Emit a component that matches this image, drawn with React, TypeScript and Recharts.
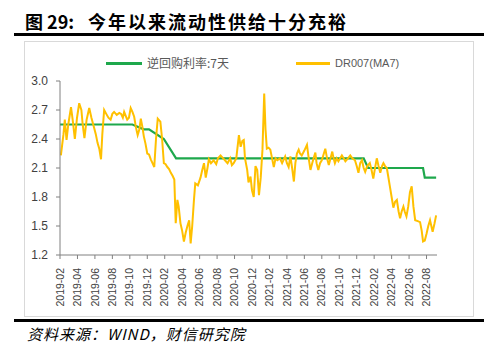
import { LineChart, Line, XAxis, YAxis } from "recharts";

// x = months since 2019-02, y = rate (%)
const dr2019: [number, number][] = [
  [0.1, 2.23], [0.4, 2.45], [0.55, 2.6], [0.75, 2.39], [0.95, 2.55], [1.26, 2.73], [1.45, 2.6],
  [1.7, 2.4], [1.95, 2.62], [2.2, 2.77], [2.45, 2.7], [2.6, 2.55], [2.8, 2.41], [3.05, 2.6],
  [3.35, 2.72], [3.6, 2.62], [3.9, 2.52], [4.1, 2.45], [4.3, 2.36], [4.5, 2.3], [4.7, 2.19],
  [4.85, 2.45], [5.06, 2.7], [5.3, 2.66], [5.55, 2.62], [5.8, 2.6], [6.0, 2.66], [6.2, 2.68],
  [6.5, 2.65], [6.8, 2.67], [7.0, 2.66], [7.2, 2.62], [7.35, 2.68], [7.7, 2.6], [7.9, 2.62],
  [8.1, 2.72], [8.3, 2.68], [8.5, 2.63], [8.7, 2.52], [8.9, 2.44], [9.1, 2.5], [9.26, 2.61],
  [9.45, 2.52], [9.6, 2.43], [9.8, 2.35], [10.0, 2.25], [10.2, 2.24], [10.4, 2.19],
  [10.6, 2.15], [10.8, 2.11],
];
const dr2020: [number, number][] = [
  [11.0, 2.4], [11.2, 2.61], [11.5, 2.58], [11.7, 2.4], [11.9, 2.15], [12.1, 2.14], [12.3, 2.11],
  [12.5, 2.09], [12.7, 2.05], [12.9, 2.02], [13.1, 1.98], [13.26, 1.53], [13.45, 1.77],
  [13.6, 1.7], [13.8, 1.53], [14.0, 1.45], [14.2, 1.34], [14.4, 1.43], [14.6, 1.5], [14.8, 1.56],
  [14.97, 1.32], [15.15, 1.5], [15.35, 1.77], [15.5, 1.94], [15.8, 1.92], [16.1, 2.0],
  [16.3, 2.08], [16.5, 2.15], [16.7, 2.0], [16.9, 2.1], [17.06, 2.19], [17.3, 2.15],
  [17.6, 2.18], [17.9, 2.14], [18.1, 2.2], [18.4, 2.23], [18.7, 2.2], [18.9, 2.18],
  [19.2, 2.15], [19.5, 2.2], [19.7, 2.13], [19.9, 2.15], [20.2, 2.2], [20.5, 2.44],
  [20.7, 2.32], [20.9, 2.38], [21.06, 2.39], [21.2, 2.2], [21.45, 2.08], [21.6, 1.95],
  [21.83, 2.01], [22.0, 1.87], [22.2, 1.8], [22.4, 2.12], [22.6, 2.08], [22.8, 1.82],
];
const dr2021: [number, number][] = [
  [23.0, 2.0], [23.2, 2.29], [23.4, 2.87], [23.55, 2.5], [23.7, 2.3], [23.9, 2.31], [24.1, 2.29],
  [24.3, 2.2], [24.5, 2.11], [24.7, 2.2], [24.9, 2.18], [25.2, 2.2], [25.45, 2.15], [25.8, 2.22],
  [26.0, 2.15], [26.2, 2.11], [26.4, 2.22], [26.6, 2.1], [26.8, 1.96], [26.97, 2.15],
  [27.15, 2.25], [27.35, 2.29], [27.5, 2.25], [27.7, 2.23], [28.0, 2.28], [28.3, 2.34],
  [28.5, 2.2], [28.7, 2.08], [28.9, 2.15], [29.06, 2.2], [29.26, 2.26], [29.4, 2.15],
  [29.6, 2.08], [29.8, 2.15], [30.0, 2.18], [30.2, 2.24], [30.4, 2.3], [30.6, 2.2],
  [30.8, 2.13], [31.0, 2.2], [31.2, 2.27], [31.35, 2.2], [31.5, 2.15], [31.7, 2.2],
  [31.9, 2.17], [32.1, 2.2], [32.3, 2.23], [32.5, 2.2], [32.7, 2.17], [33.0, 2.2],
  [33.26, 2.23], [33.5, 2.2], [33.8, 2.18], [34.0, 2.12], [34.2, 2.05], [34.4, 2.15],
  [34.6, 2.18], [34.8, 2.1],
];
const dr2022: [number, number][] = [
  [34.97, 2.06], [35.2, 2.12], [35.5, 2.15], [35.7, 2.08], [35.9, 1.99], [36.1, 2.1],
  [36.3, 2.2], [36.5, 2.12], [36.7, 2.05], [36.9, 2.12], [37.06, 2.15], [37.25, 2.12],
  [37.45, 2.1], [37.6, 2.02], [37.8, 1.91], [38.0, 1.8], [38.2, 1.69], [38.4, 1.75],
  [38.6, 1.77], [38.8, 1.65], [38.97, 1.58], [39.15, 1.65], [39.35, 1.7], [39.5, 1.65],
  [39.7, 1.6], [39.9, 1.7], [40.1, 1.85], [40.3, 1.91], [40.5, 1.7], [40.7, 1.56], [41.0, 1.55],
  [41.26, 1.54], [41.45, 1.45], [41.6, 1.34], [41.8, 1.35], [42.0, 1.42], [42.2, 1.5],
  [42.4, 1.56], [42.55, 1.5], [42.7, 1.44], [42.9, 1.52], [43.1, 1.61],
];
const repoRate: [number, number][] = [
  [0, 2.55], [8.3, 2.55], [9.6, 2.5], [10.2, 2.5], [11.9, 2.4], [13.3, 2.2],
  [34.8, 2.2], [35.3, 2.1], [41.6, 2.1], [41.8, 2.0], [43.1, 2.0],
];

const monthLabels = [
  "2019-02", "2019-04", "2019-06", "2019-08", "2019-10", "2019-12",
  "2020-02", "2020-04", "2020-06", "2020-08", "2020-10", "2020-12",
  "2021-02", "2021-04", "2021-06", "2021-08", "2021-10", "2021-12",
  "2022-02", "2022-04", "2022-06", "2022-08",
];
const yTicks = [1.2, 1.5, 1.8, 2.1, 2.4, 2.7, 3.0];

const GREEN = "#1EA84C";
const GOLD = "#FFC000";

const toPoints = (arr: [number, number][]) => arr.map(([t, v]) => ({ t, v }));
const drData = toPoints([...dr2019, ...dr2020, ...dr2021, ...dr2022]);
const repoData = toPoints(repoRate);
const xTicks = monthLabels.map((_, i) => i * 2);

const MonthTick = (props: any) => {
  const { x, y, payload } = props;
  return (
    <text
      x={x}
      y={y + 7}
      transform={`rotate(-90, ${x}, ${y + 7})`}
      textAnchor="end"
      dy="0.35em"
      fontSize={10.5}
      fontFamily="Liberation Sans, Arial, sans-serif"
      fill="#404040"
    >
      {monthLabels[payload.value / 2]}
    </text>
  );
};

export default function App() {
  return (
    <div
      style={{
        position: "absolute",
        left: 0,
        top: 0,
        width: 500,
        height: 353,
        background: "#fff",
        fontFamily: "'Noto Sans CJK SC', sans-serif",
        overflow: "hidden",
      }}
    >
      {/* title */}
      <div style={{ position: "absolute", left: 25, top: 9, fontSize: 18, fontWeight: 700, lineHeight: "24px", whiteSpace: "nowrap" }}>
        图 29:
      </div>
      <div style={{ position: "absolute", left: 88, top: 9, fontSize: 18, fontWeight: 700, lineHeight: "24px", letterSpacing: 2, whiteSpace: "nowrap" }}>
        今年以来流动性供给十分充裕
      </div>
      <div style={{ position: "absolute", left: 14, top: 33, width: 470, height: 3, background: "#000" }} />

      {/* chart frame */}
      <div style={{ position: "absolute", left: 24, top: 41, width: 448, height: 274, border: "1px solid #d9d9d9" }} />

      {/* legend */}
      <div style={{ position: "absolute", left: 106, top: 62, width: 36, height: 2.5, background: GREEN }} />
      <div style={{ position: "absolute", left: 147, top: 55, fontSize: 12, color: "#595959", lineHeight: "16px", whiteSpace: "nowrap" }}>
        逆回购利率:7天
      </div>
      <div style={{ position: "absolute", left: 296, top: 62, width: 34, height: 2.5, background: GOLD }} />
      <div style={{ position: "absolute", left: 335, top: 55, fontSize: 11, color: "#595959", lineHeight: "16px", fontFamily: "Liberation Sans, Arial, sans-serif", whiteSpace: "nowrap" }}>
        DR007(MA7)
      </div>

      <div style={{ position: "absolute", left: 0, top: 0 }}>
        <LineChart width={500} height={353} margin={{ top: 81, right: 63, bottom: 48, left: 0 }}>
          <XAxis
            dataKey="t"
            type="number"
            domain={[0, 43.2]}
            ticks={xTicks}
            interval={0}
            height={50}
            tick={<MonthTick />}
            tickSize={4}
            stroke="#808080"
            allowDataOverflow
          />
          <YAxis
            dataKey="v"
            type="number"
            domain={[1.2, 3.0]}
            ticks={yTicks}
            width={60}
            tickSize={4}
            tickMargin={8}
            stroke="#808080"
            tickFormatter={(v: number) => v.toFixed(1)}
            tick={{ fontSize: 12, fill: "#404040", fontFamily: "Liberation Sans, Arial, sans-serif" }}
          />
          <Line
            data={repoData}
            dataKey="v"
            type="linear"
            stroke={GREEN}
            strokeWidth={2.2}
            dot={false}
            isAnimationActive={false}
          />
          <Line
            data={drData}
            dataKey="v"
            type="linear"
            stroke={GOLD}
            strokeWidth={2}
            dot={false}
            isAnimationActive={false}
          />
        </LineChart>
      </div>

      {/* footer */}
      <div style={{ position: "absolute", left: 14, top: 319, width: 470, height: 3, background: "#000" }} />
      <div style={{ position: "absolute", left: 27, top: 324, fontSize: 15, fontStyle: "italic", lineHeight: "20px", color: "#000", whiteSpace: "nowrap", letterSpacing: 1 }}>
        资料来源：WIND，财信研究院
      </div>
    </div>
  );
}
